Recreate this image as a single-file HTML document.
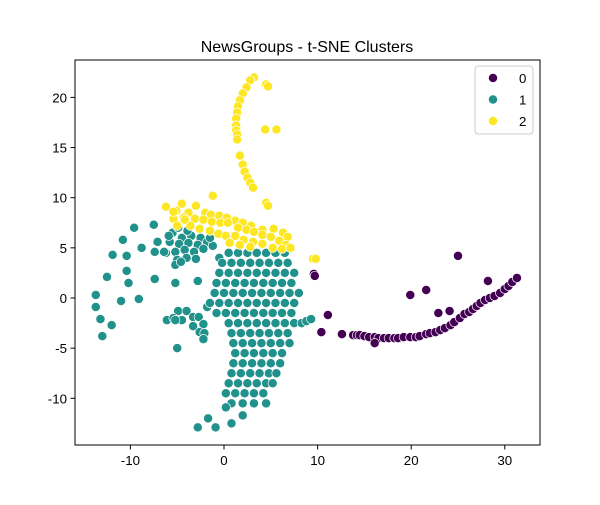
<!DOCTYPE html>
<html><head><meta charset="utf-8"><style>
body{margin:0;background:#fff;font-family:"Liberation Sans","DejaVu Sans",sans-serif}
</style></head><body>
<svg id="chart" width="600" height="500" xmlns="http://www.w3.org/2000/svg">
<rect width="600" height="500" fill="#fff"/>
<text x="307" y="52" text-anchor="middle" font-size="16">NewsGroups - t-SNE Clusters</text>
<g id="points"></g>
<rect x="75" y="60" width="465" height="385" fill="none" stroke="#000" stroke-width="1"/>
<g id="xt"></g>
<g id="yt"></g>
<g id="legend"></g>
</svg>
<script>
const xTicks=[-10,0,10,20,30];
const yTicks=[-10,-5,0,5,10,15,20];
const categories=["0","1","2"];
const colors=["#440154","#21918c","#fde725"];
// cluster 0 (purple)
const c0x=[9.6,9.7,11.1,10.4,12.6,13.8,14.2,14.5,15.0,15.5,16.1,16.5,17.1,17.6,18.2,18.6,19.2,19.9,20.5,20.9,21.6,22.0,22.6,23.1,23.6,24.2,24.6,25.2,25.7,26.2,26.6,27.0,27.4,27.9,28.4,28.9,29.5,30.0,30.4,30.8,31.3,16.1,19.9,21.6,22.9,24.1,25.0,28.2];
const c0y=[2.4,2.2,-1.7,-3.4,-3.6,-3.7,-3.7,-3.7,-3.8,-3.9,-3.9,-4.0,-4.0,-4.0,-4.0,-4.0,-3.9,-3.9,-3.9,-3.8,-3.6,-3.5,-3.4,-3.2,-3.0,-2.7,-2.4,-2.0,-1.6,-1.4,-1.1,-0.8,-0.5,-0.2,0.0,0.2,0.5,0.9,1.2,1.6,2.0,-4.5,0.3,0.8,-1.5,-1.3,4.2,1.7];
// cluster 1 (teal)
const c1x=[-9.6,-7.5,-10.8,-7.1,-8.8,-7.4,-11.9,-10.4,-6.2,-10.4,-12.5,-10.2,-7.4,-5.2,-2.8,-13.7,-13.7,-11.0,-9.1,-13.2,-12.0,-13.0,-5.0,-0.5,-1.8,
-4.9,-6.1,-5.4,-4.5,-4.0,-3.3,-3.3,-2.7,-2.2,-2.6,-2.1,-2.2,-5.2,
-5.5,-4.5,-3.5,-2.5,-5.8,-4.8,-3.8,-2.8,-1.8,-5.2,-4.2,-3.2,-2.2,-5.0,-4.0,-3.0,-5.2,-4.6,-1.2,-5.9,-1.5,-6.4,-4.9,-3.9,
0.5,1.5,2.5,3.5,4.5,5.5,6.5,
-0.2,0.8,1.8,2.8,3.8,4.8,5.8,6.8,
-0.5,0.5,1.5,2.5,3.5,4.5,5.5,6.5,7.5,
-0.8,0.2,1.2,2.2,3.2,4.2,5.2,6.2,7.2,
-1.0,0.0,1.0,2.0,3.0,4.0,5.0,6.0,7.0,8.0,
-1.5,-0.5,0.5,1.5,2.5,3.5,4.5,5.5,6.5,7.5,
-0.8,0.2,1.2,2.2,3.2,4.2,5.2,6.2,7.2,
0.5,1.5,2.5,3.5,4.5,5.5,6.5,7.5,
0.8,1.8,2.8,3.8,4.8,5.8,6.8,
1.0,2.0,3.0,4.0,5.0,6.0,7.0,
1.2,2.2,3.2,4.2,5.2,6.2,
1.0,2.0,3.0,4.0,5.0,6.0,
0.8,1.8,2.8,3.8,4.8,5.6,
0.5,1.5,2.5,3.5,4.5,5.2,
0.2,1.2,2.2,3.2,4.2,
0.8,2.0,3.2,4.5,
-2.8,-1.7,-0.9,0.8,0.2,2.0,8.3,8.8,9.3];
const c1y=[7.0,7.3,5.8,5.6,5.0,4.6,4.3,4.2,4.5,2.7,2.1,1.5,1.9,1.5,1.7,0.3,-0.9,-0.3,-0.1,-2.1,-2.7,-3.8,-5.0,4.0,-0.9,
-1.3,-2.2,-2.0,-2.2,-1.3,-1.9,-2.8,-1.9,-2.6,-3.4,-3.5,-4.1,-2.2,
6.5,6.0,6.2,6.0,5.6,5.4,5.5,5.3,5.6,4.6,4.8,4.6,4.9,3.8,4.0,3.9,3.3,3.6,5.2,6.2,6.0,4.6,7.0,6.7,
4.5,4.5,4.5,4.5,4.5,4.5,4.5,
3.5,3.5,3.5,3.5,3.5,3.5,3.5,3.5,
2.5,2.5,2.5,2.5,2.5,2.5,2.5,2.5,2.5,
1.5,1.5,1.5,1.5,1.5,1.5,1.5,1.5,1.5,
0.5,0.5,0.5,0.5,0.5,0.5,0.5,0.5,0.5,0.5,
-0.5,-0.5,-0.5,-0.5,-0.5,-0.5,-0.5,-0.5,-0.5,-0.5,
-1.5,-1.5,-1.5,-1.5,-1.5,-1.5,-1.5,-1.5,-1.5,
-2.5,-2.5,-2.5,-2.5,-2.5,-2.5,-2.5,-2.5,
-3.5,-3.5,-3.5,-3.5,-3.5,-3.5,-3.5,
-4.5,-4.5,-4.5,-4.5,-4.5,-4.5,-4.5,
-5.5,-5.5,-5.5,-5.5,-5.5,-5.5,
-6.5,-6.5,-6.5,-6.5,-6.5,-6.5,
-7.5,-7.5,-7.5,-7.5,-7.5,-7.5,
-8.5,-8.5,-8.5,-8.5,-8.5,-8.5,
-9.5,-9.5,-9.5,-9.5,-9.5,
-10.5,-10.5,-10.5,-10.5,
-12.9,-12.0,-12.9,-12.5,-10.9,-11.7,-2.5,-2.3,-2.1];
// cluster 2 (yellow)
const c2x=[3.2,2.8,2.4,2.0,1.7,1.5,1.4,1.3,1.3,1.3,1.4,1.4,1.7,2.0,2.2,2.5,2.8,3.1,4.5,4.7,4.4,5.6,4.5,4.7,-1.2,9.5,9.8,
-6.2,-4.5,-3.0,-5.1,-3.8,-2.0,-1.4,-0.5,0.3,1.2,2.0,2.9,4.1,5.3,6.3,6.8,-5.4,-4.3,-3.1,-2.2,-1.3,-0.4,0.4,1.5,2.4,3.2,4.1,5.0,5.9,6.6,-5.0,-3.6,-2.6,-1.5,-0.6,0.2,1.2,2.1,3.1,4.1,5.2,6.2,7.1,0.6,1.7,2.8,-5.4,-4.2];
const c2y=[22.0,21.7,21.0,20.4,19.7,19.1,18.5,17.9,17.2,16.7,16.3,15.8,14.2,13.3,12.6,12.0,11.5,11.0,21.3,21.1,16.8,16.8,9.5,9.2,10.2,3.9,3.9,
9.1,9.4,9.2,8.7,8.5,8.5,8.3,8.2,8.0,7.7,7.5,7.2,6.8,6.9,6.5,6.1,7.9,8.0,7.9,7.8,7.6,7.5,7.5,7.0,6.8,6.6,6.3,6.1,5.7,5.3,7.2,7.2,6.9,6.7,6.4,6.2,6.2,5.8,5.6,5.4,5.0,4.9,5.0,5.5,5.3,5.1,8.6,7.8];

const NS="http://www.w3.org/2000/svg";
const xs=v=>224+(v)*9.36;
const ys=v=>298-(v)*10.03;
function mk(t,a,p){const e=document.createElementNS(NS,t);for(const k in a)e.setAttribute(k,a[k]);p.appendChild(e);return e;}
const pts=document.getElementById('points');
[[c0x,c0y],[c1x,c1y],[c2x,c2y]].forEach((s,ci)=>{
  for(let i=0;i<s[0].length;i++){
    const c=mk('circle',{cx:xs(s[0][i]),cy:ys(s[1][i]),r:4.6,fill:colors[ci],stroke:'#fff','stroke-width':0.7},pts);
    
    
  }
});
const xt=document.getElementById('xt');
xTicks.forEach(t=>{
  const l=mk('line',{x1:xs(t),x2:xs(t),y1:445,y2:449.5,stroke:'#000'},xt);
  
  
  const tx=mk('text',{x:xs(t),y:465,'text-anchor':'middle','font-size':'13.3'},xt);
  tx.textContent=String(t);
  
  
});
const yt=document.getElementById('yt');
yTicks.forEach(t=>{
  const l=mk('line',{x1:70.5,x2:75,y1:ys(t),y2:ys(t),stroke:'#000'},yt);
  
  
  const tx=mk('text',{x:67,y:ys(t)+5,'text-anchor':'end','font-size':'13.3'},yt);
  tx.textContent=String(t);
  
  
});
const lg=document.getElementById('legend');
const box=mk('rect',{x:475,y:66,width:58,height:68,rx:3,fill:'#fff','fill-opacity':0.8,stroke:'#ccc'},lg);


categories.forEach((c,i)=>{
  const y=78+i*21.5;
  const m=mk('circle',{cx:493,cy:y,r:4.6,fill:colors[i],stroke:'#fff','stroke-width':0.7},lg);
  
  
  const t=mk('text',{x:519,y:y+5,'font-size':'13.3'},lg);
  t.textContent=c;
  
  
});
</script>
</body></html>
